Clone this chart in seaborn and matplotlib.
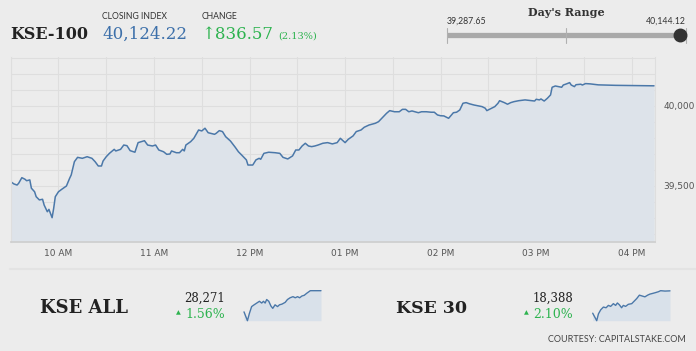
import numpy as np
import pandas as pd
import matplotlib
matplotlib.use('Agg')
import matplotlib.pyplot as plt
import seaborn as sns

# KSE-100 intraday (time, index level)
times = ['09:30', '09:32', '09:34', '09:35', '09:37', '09:39', '09:40', '09:42', '09:43', '09:45',
         '09:46', '09:48', '09:50', '09:51', '09:53', '09:54', '09:56', '09:57', '09:58', '10:00',
         '10:02', '10:05', '10:07', '10:08', '10:10', '10:12', '10:15', '10:18', '10:21', '10:23',
         '10:25', '10:27', '10:28', '10:30', '10:32', '10:35', '10:36', '10:39', '10:41', '10:43',
         '10:45', '10:48', '10:50', '10:54', '10:56', '10:59', '11:01', '11:03', '11:06', '11:08',
         '11:10', '11:11', '11:14', '11:16', '11:18', '11:19', '11:20', '11:23', '11:25', '11:28',
         '11:30', '11:32', '11:34', '11:38', '11:39', '11:41', '11:43', '11:45', '11:48', '11:51',
         '11:53', '11:55', '11:58', '11:59', '12:02', '12:04', '12:06', '12:07', '12:09', '12:12',
         '12:16', '12:19', '12:21', '12:24', '12:27', '12:29', '12:31', '12:33', '12:35', '12:37',
         '12:39', '12:41', '12:43', '12:46', '12:49', '12:52', '12:55', '12:57', '13:00', '13:02',
         '13:05', '13:07', '13:10', '13:12', '13:15', '13:19', '13:21', '13:24', '13:26', '13:28',
         '13:31', '13:34', '13:36', '13:38', '13:40', '13:42', '13:46', '13:48', '13:51', '13:54',
         '13:56', '13:58', '14:00', '14:02', '14:05', '14:08', '14:10', '14:12', '14:14', '14:16',
         '14:18', '14:21', '14:24', '14:26', '14:28', '14:29', '14:32', '14:34', '14:36', '14:37',
         '14:40', '14:42', '14:44', '14:46', '14:49', '14:53', '14:57', '14:59', '15:00', '15:02',
         '15:03', '15:05', '15:07', '15:09', '15:10', '15:12', '15:14', '15:16', '15:17', '15:19',
         '15:21', '15:22', '15:24', '15:25', '15:28', '15:29', '15:31', '15:34', '15:39', '15:50',
         '16:14']
kse100 = [39525, 39511, 39504, 39515, 39550, 39540, 39531, 39536, 39484, 39462,
          39431, 39411, 39415, 39379, 39337, 39352, 39300, 39359, 39431, 39462,
          39477, 39498, 39546, 39567, 39650, 39677, 39671, 39681, 39671, 39650,
          39623, 39623, 39654, 39681, 39702, 39727, 39717, 39727, 39754, 39750,
          39719, 39709, 39769, 39781, 39754, 39748, 39754, 39723, 39712, 39696,
          39698, 39717, 39706, 39706, 39727, 39717, 39754, 39775, 39796, 39848,
          39842, 39859, 39831, 39821, 39827, 39844, 39838, 39806, 39779, 39740,
          39712, 39692, 39661, 39629, 39629, 39661, 39671, 39665, 39702, 39709,
          39706, 39702, 39677, 39667, 39686, 39723, 39723, 39748, 39765, 39748,
          39744, 39748, 39754, 39765, 39769, 39761, 39769, 39796, 39769, 39790,
          39811, 39838, 39848, 39865, 39879, 39890, 39900, 39931, 39952, 39969,
          39962, 39962, 39977, 39977, 39962, 39967, 39956, 39962, 39962, 39959,
          39959, 39942, 39937, 39936, 39921, 39956, 39959, 39973, 40015, 40019,
          40012, 40004, 39998, 39994, 39984, 39969, 39984, 39994, 40015, 40031,
          40019, 40009, 40019, 40025, 40031, 40036, 40031, 40029, 40040, 40036,
          40042, 40029, 40046, 40067, 40115, 40123, 40119, 40115, 40129, 40136,
          40144, 40129, 40119, 40131, 40134, 40129, 40138, 40136, 40130, 40127,
          40124]

# sparklines (minutes after 09:30, level)
all_min = [0, 18, 28, 40, 53, 67, 81, 93, 102, 111, 119, 130, 141, 151, 163, 176, 186, 199,
           216, 228, 242, 257, 269, 281, 292, 304, 316, 330, 348, 374, 404]
kse_all = [27959, 27829, 27933, 28037, 28063, 28089, 28115, 28089, 28115, 28089, 28141, 28115,
           28047, 28011, 28063, 28037, 28063, 28073, 28099, 28141, 28167, 28183, 28167, 28183,
           28167, 28193, 28203, 28235, 28271, 28271, 28271]
k30_min = [0, 21, 30, 42, 56, 70, 82, 94, 108, 120, 129, 139, 151, 160, 172, 186, 204, 218,
           230, 244, 261, 273, 287, 299, 313, 326, 343, 355, 378, 404]
kse30 = [18091, 17992, 18082, 18136, 18172, 18163, 18194, 18181, 18217, 18194, 18226, 18203,
         18163, 18194, 18181, 18208, 18217, 18253, 18284, 18329, 18316, 18307, 18329, 18343,
         18352, 18361, 18374, 18388, 18383, 18386]

hour_ticks = [600, 660, 720, 780, 840, 900, 960]
hour_labels = ['10 AM', '11 AM', '12 PM', '01 PM', '02 PM', '03 PM', '04 PM']

BG = '#ececec'
LINE = '#4b78a9'
FILL = '#dde3ea'
GREEN = '#2db34f'
W, H = 696, 351


def fx(x):
    return x / W


def fy(y):
    return 1 - y / H


sns.set_theme(style='white')
plt.rcParams['font.family'] = ['DejaVu Sans']

fig = plt.figure(figsize=(W / 100, H / 100), dpi=100, facecolor=BG)

# main chart
df = pd.DataFrame({'time': times, 'value': kse100})
df['minute'] = [int(t[:2]) * 60 + int(t[3:]) for t in times]
ylo, yhi = 39148, 40306

ax = fig.add_axes([fx(10.7), fy(242), fx(655) - fx(10.7), fy(56.7) - fy(242)])
ax.set_facecolor(BG)
ax.fill_between(df['minute'], df['value'], ylo, color=FILL, lw=0)
sns.lineplot(data=df, x='minute', y='value', ax=ax, color=LINE, lw=1.1)
ax.set_xlim(570, 974.6)
ax.set_ylim(ylo, yhi)
ax.set_xticks(hour_ticks)
ax.set_xticklabels(hour_labels)
ax.set_xticks(range(570, 975, 30), minor=True)
ax.set_yticks([39500, 40000])
ax.set_yticklabels(['39,500', '40,000'])
ax.set_yticks(range(39200, 40301, 100), minor=True)
ax.yaxis.tick_right()
ax.grid(True, which='both', color='#dedede', lw=0.8)
ax.set_axisbelow(True)
ax.tick_params(which='both', length=0)
ax.tick_params(axis='x', labelsize=6.5, colors='#555555', pad=5)
ax.tick_params(axis='y', labelsize=6.5, colors='#555555', pad=6)
ax.set_xlabel('')
ax.set_ylabel('')
for s in ['left', 'right']:
    ax.spines[s].set_color('#dedede')
    ax.spines[s].set_linewidth(0.8)
ax.spines['bottom'].set_color('#cfcfcf')
ax.spines['top'].set_visible(False)

# header
serif = ['DejaVu Serif', 'DejaVu Sans']
fig.text(fx(10), fy(39), 'KSE-100', family=serif, weight='bold', size=11.5, color='#222222', va='baseline')
fig.text(fx(102), fy(16.7), 'CLOSING INDEX', family='Lato', size=6.2, color='#333333', va='center')
fig.text(fx(102), fy(39), '40,124.22', family=serif, size=12, color='#3d70aa', va='baseline')
fig.text(fx(202), fy(16.7), 'CHANGE', family='Lato', size=6.2, color='#333333', va='center')
fig.text(fx(201), fy(39), '\u2191836.57', family=serif, size=12, color=GREEN, va='baseline')
fig.text(fx(278), fy(39), '(2.13%)', family=serif, size=7, color=GREEN, va='baseline')

# day's range
fig.text(fx(566.5), fy(12.5), "Day's Range", family=serif, weight='bold', size=8, color='#333333',
         ha='center', va='center')
fig.text(fx(447), fy(21.5), '39,287.65', family='Lato', size=6.3, color='#333333', va='center')
fig.text(fx(686), fy(21.5), '40,144.12', family='Lato', size=6.3, color='#333333', va='center', ha='right')
fig.add_artist(plt.Line2D([fx(447), fx(686)], [fy(35), fy(35)], color='#a9a9a9', lw=3.8,
                          solid_capstyle='butt'))
for xt in [447, 566, 686]:
    fig.add_artist(plt.Line2D([fx(xt), fx(xt)], [fy(28), fy(43)], color='#b0b0b0', lw=0.8))
fig.add_artist(plt.Line2D([fx(680)], [fy(35)], marker='o', ms=9, color='#333333', mec='#333333'))

# separator above bottom panel
fig.add_artist(plt.Line2D([fx(10), fx(696)], [fy(268.5), fy(268.5)], color='#e3e3e3', lw=1.5))


# bottom panels
def spark(x0, x1, mins, vals):
    sdf = pd.DataFrame({'minute': mins, 'value': vals})
    sa = fig.add_axes([fx(x0), fy(320.7), fx(x1) - fx(x0), fy(290.7) - fy(320.7)])
    lo, hi = min(vals), max(vals)
    sa.fill_between(sdf['minute'], sdf['value'], lo, color='#d9e1ea', lw=0)
    sns.lineplot(data=sdf, x='minute', y='value', ax=sa, color=LINE, lw=1.0, clip_on=False)
    sa.set_xlim(0, max(mins))
    sa.set_ylim(lo, hi)
    sa.axis('off')


fig.text(fx(40), fy(313), 'KSE ALL', family=serif, weight='bold', size=13, color='#222222', va='baseline')
fig.text(fx(225), fy(302), '28,271', family=serif, size=8.5, color='#222222', ha='right', va='baseline')
fig.text(fx(225), fy(318), '1.56%', family=serif, size=9, color=GREEN, ha='right', va='baseline')
fig.text(fx(178), fy(314), '\u25b2', family='DejaVu Sans', size=4.5, color=GREEN, ha='center', va='baseline')
spark(244, 321, all_min, kse_all)

fig.text(fx(396), fy(313), 'KSE 30', family=serif, weight='bold', size=12.5, color='#222222', va='baseline')
fig.text(fx(573), fy(302), '18,388', family=serif, size=8.5, color='#222222', ha='right', va='baseline')
fig.text(fx(573), fy(318), '2.10%', family=serif, size=9, color=GREEN, ha='right', va='baseline')
fig.text(fx(526), fy(314), '\u25b2', family='DejaVu Sans', size=4.5, color=GREEN, ha='center', va='baseline')
spark(592.7, 670, k30_min, kse30)

fig.text(fx(686), fy(340), 'COURTESY: CAPITALSTAKE.COM', family='Lato', size=6.5, color='#444444',
         ha='right', va='center')

fig.savefig('out.png', dpi=100, facecolor=BG)
